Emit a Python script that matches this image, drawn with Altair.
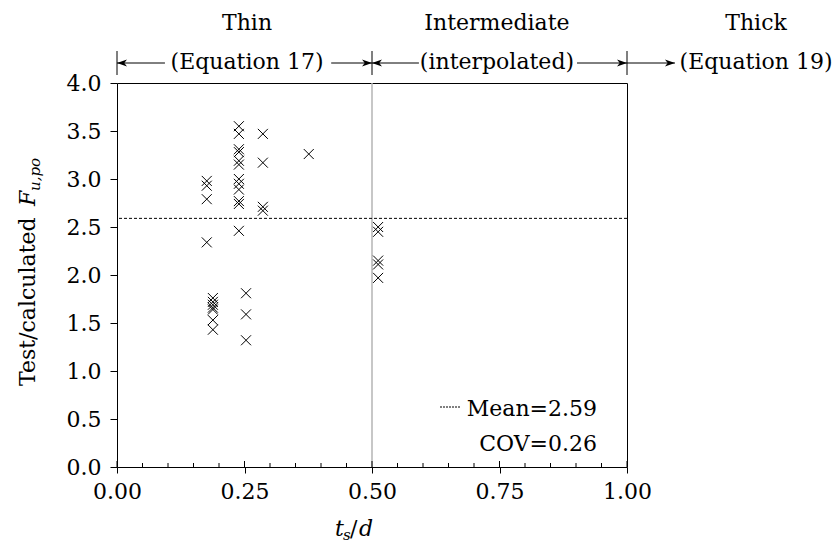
import altair as alt
import pandas as pd

# ---------------- data ----------------
col_x = [0.176, 0.188, 0.239, 0.253, 0.286, 0.376, 0.512]
col_y = [
    [2.98, 2.93, 2.79, 2.34],
    [1.76, 1.72, 1.69, 1.66, 1.64, 1.53, 1.43],
    [3.55, 3.47, 3.31, 3.28, 3.19, 3.15, 3.00, 2.95, 2.89, 2.77, 2.74, 2.46],
    [1.81, 1.59, 1.32],
    [3.47, 3.17, 2.71, 2.67],
    [3.26],
    [2.50, 2.45, 2.15, 2.11, 1.97],
]
mean_value = 2.59
cov_value = 0.26

x_major = [0.0, 0.25, 0.5, 0.75, 1.0]
x_minor = [0.05, 0.10, 0.15, 0.20, 0.30, 0.35, 0.40, 0.45,
           0.55, 0.60, 0.65, 0.70, 0.80, 0.85, 0.90, 0.95]
y_major = [0.0, 0.5, 1.0, 1.5, 2.0, 2.5, 3.0, 3.5, 4.0]

region_names = ["Thin", "Intermediate", "Thick"]
region_eqs = ["(Equation 17)", "(interpolated)", "(Equation 19)"]
region_centers = [0.255, 0.745, 1.253]
boundaries = [0.0, 0.5, 1.0]
arrow_tail = [0.094, 0.42, 0.592, 0.902, 1.0]
arrow_head = [0.0, 0.5, 0.5, 1.0, 1.094]

FONT = "DejaVu Serif"
FS = 22
W, H = 510, 384

# ---------------- frames ----------------
xs_, ys_ = [], []
for cx, cy in zip(col_x, col_y):
    for v in cy:
        xs_.append(cx)
        ys_.append(v)
pts = pd.DataFrame({"x": xs_, "y": ys_})

xs = alt.Scale(domain=[0, 1], nice=False, zero=False)
ys = alt.Scale(domain=[0, 4], nice=False, zero=False)

base_pts = alt.Chart(pts).mark_point(
    shape="M-1,-1L1,1M-1,1L1,-1", filled=False, color="black",
    strokeWidth=1, size=100, opacity=1
).encode(
    x=alt.X("x:Q", scale=xs,
            axis=alt.Axis(values=x_major, format=".2f", title=None, grid=False,
                          tickSize=6, labelPadding=8, domain=False,
                          labelFlush=False, labelOverlap=False)),
    y=alt.Y("y:Q", scale=ys,
            axis=alt.Axis(values=y_major, format=".1f", title=None, grid=False,
                          tickSize=7, labelPadding=9, domain=False,
                          labelFlush=False, labelOverlap=False)),
)

vline = alt.Chart(pd.DataFrame({"b": [boundaries[1]]})).mark_rule(
    color="#b5b5b5", strokeWidth=1.5
).encode(x=alt.X("b:Q", scale=xs))

mean_line = alt.Chart(pd.DataFrame({"m": [mean_value]})).mark_rule(
    color="black", strokeWidth=1, strokeDash=[3, 2]
).encode(y=alt.Y("m:Q", scale=ys))

minor_ticks = alt.Chart(pd.DataFrame({"t": x_minor})).mark_rule(
    color="black", strokeWidth=1
).encode(x=alt.X("t:Q", scale=xs), y=alt.value(H), y2=alt.value(H - 4))

major_ticks = alt.Chart(pd.DataFrame({"t": x_major})).mark_rule(
    color="black", strokeWidth=1
).encode(x=alt.X("t:Q", scale=xs), y=alt.value(H), y2=alt.value(H - 6))

# ---------------- top annotations ----------------
reg = pd.DataFrame({"c": region_centers, "name": region_names, "eq": region_eqs})
reg_names = alt.Chart(reg).mark_text(font=FONT, fontSize=FS, color="black",
                                     baseline="middle").encode(
    x=alt.X("c:Q", scale=xs), y=alt.value(-60), text="name:N")
reg_eqs = alt.Chart(reg).mark_text(font=FONT, fontSize=FS, color="black",
                                   baseline="middle").encode(
    x=alt.X("c:Q", scale=xs), y=alt.value(-21), text="eq:N")

bars = alt.Chart(pd.DataFrame({"b": boundaries})).mark_rule(
    color="black", strokeWidth=1
).encode(x=alt.X("b:Q", scale=xs), y=alt.value(-32), y2=alt.value(-8))

arr = pd.DataFrame({"tail": arrow_tail, "head": arrow_head})
arr["dir"] = ["R" if h > t else "L" for t, h in zip(arrow_tail, arrow_head)]
shafts = alt.Chart(arr).mark_rule(color="black", strokeWidth=1).encode(
    x=alt.X("tail:Q", scale=xs), x2="head:Q", y=alt.value(-20))
heads_r = alt.Chart(arr).transform_filter(alt.datum.dir == "R").mark_point(
    shape="M0,0L-2,-0.7L-1.45,0L-2,0.7Z", filled=True, color="black",
    size=100, opacity=1
).encode(x=alt.X("head:Q", scale=xs), y=alt.value(-20))
heads_l = alt.Chart(arr).transform_filter(alt.datum.dir == "L").mark_point(
    shape="M0,0L2,-0.7L1.45,0L2,0.7Z", filled=True, color="black",
    size=100, opacity=1
).encode(x=alt.X("head:Q", scale=xs), y=alt.value(-20))

# ---------------- legend box text ----------------
leg = pd.DataFrame({"a": [f"Mean={mean_value:.2f}"], "b": [f"COV={cov_value:.2f}"]})
leg_line = alt.Chart(leg).mark_rule(color="black", strokeWidth=1,
                                    strokeDash=[2, 1]).encode(
    x=alt.value(323), x2=alt.value(344), y=alt.value(324))
leg_t1 = alt.Chart(leg).mark_text(font=FONT, fontSize=FS, color="black",
                                  align="right", baseline="alphabetic").encode(
    x=alt.value(480), y=alt.value(333), text="a:N")
leg_t2 = alt.Chart(leg).mark_text(font=FONT, fontSize=FS, color="black",
                                  align="right", baseline="alphabetic").encode(
    x=alt.value(480), y=alt.value(368), text="b:N")

# ---------------- axis titles ----------------
ttl = pd.DataFrame({"main": ["Test/calculated"], "F": ["F"], "sub": ["u,po"],
                    "t": ["t"], "s": ["s"], "sl": ["/"], "d": ["d"]})
yt_main = alt.Chart(ttl).mark_text(font=FONT, fontSize=22, color="black", angle=270,
                                   align="left", baseline="middle").encode(
    x=alt.value(-89), y=alt.value(303), text="main:N")
yt_F = alt.Chart(ttl).mark_text(font=FONT, fontSize=22, color="black", angle=270,
                                align="left", baseline="middle", fontStyle="italic").encode(
    x=alt.value(-89), y=alt.value(123), text="F:N")
yt_sub = alt.Chart(ttl).mark_text(font=FONT, fontSize=15, color="black", angle=270,
                                  align="left", baseline="middle", fontStyle="italic").encode(
    x=alt.value(-82), y=alt.value(108), text="sub:N")

xt_t = alt.Chart(ttl).mark_text(font=FONT, fontSize=22, color="black", align="left",
                                baseline="alphabetic", fontStyle="italic").encode(
    x=alt.value(218), y=alt.value(453), text="t:N")
xt_s = alt.Chart(ttl).mark_text(font=FONT, fontSize=15, color="black", align="left",
                                baseline="alphabetic", fontStyle="italic").encode(
    x=alt.value(226), y=alt.value(457), text="s:N")
xt_sl = alt.Chart(ttl).mark_text(font=FONT, fontSize=22, color="black", align="left",
                                 baseline="alphabetic").encode(
    x=alt.value(233), y=alt.value(453), text="sl:N")
xt_d = alt.Chart(ttl).mark_text(font=FONT, fontSize=22, color="black", align="left",
                                baseline="alphabetic", fontStyle="italic").encode(
    x=alt.value(242), y=alt.value(453), text="d:N")

chart = alt.layer(
    vline, mean_line, minor_ticks, major_ticks, base_pts,
    reg_names, reg_eqs, bars, shafts, heads_r, heads_l,
    leg_line, leg_t1, leg_t2,
    yt_main, yt_F, yt_sub, xt_t, xt_s, xt_sl, xt_d,
).properties(
    width=W, height=H,
    autosize=alt.AutoSizeParams(type="none"),
    padding={"left": 117, "top": 83, "right": 206, "bottom": 77},
).configure_view(
    stroke="black", strokeWidth=1
).configure_axis(
    labelFont=FONT, labelFontSize=FS, labelColor="black",
    tickColor="black", tickWidth=1
)

chart.save("out.html", embed_options={"renderer": "svg", "actions": False})
